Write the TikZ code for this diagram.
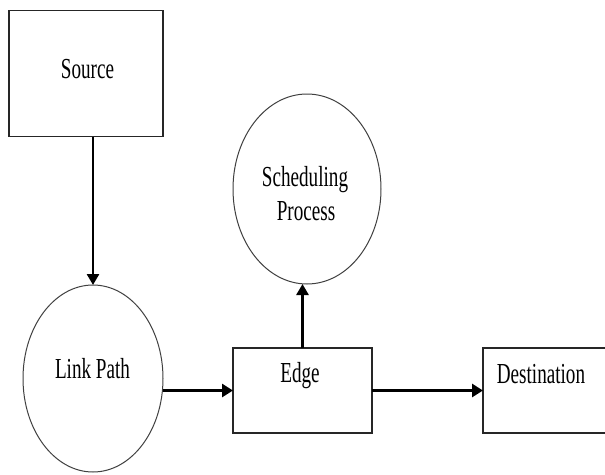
\documentclass[tikz,border=0pt]{standalone}
\usepackage{fontspec}
\setmainfont{Liberation Serif}
\usetikzlibrary{shapes.geometric,arrows.meta,calc}
\newcommand{\lbl}[1]{\scalebox{0.66}[1]{\fontsize{29}{32}\selectfont #1}}
\begin{document}
\begin{tikzpicture}[x=1pt,y=-1pt,
  boxshape/.style={draw=black!85,line width=1.4pt,rectangle,inner sep=0pt,outer sep=0pt},
  ovalshape/.style={draw=black!75,line width=1pt,ellipse,inner sep=0pt,outer sep=0pt},
  txt/.style={anchor=base,inner sep=0pt,text=black},
  arr/.style={line width=3.2pt,-{Triangle[length=11pt,width=13pt]}},
  varr/.style={line width=2.6pt,-{Triangle[length=11pt,width=12pt]}}]
\useasboundingbox[fill=white] (0,0) rectangle (605,474);
% shapes
\node[boxshape,minimum width=154pt,minimum height=126pt] (src) at (86,73.5) {};
\node[ovalshape,minimum width=140pt,minimum height=187pt] (lp) at (93,378.5) {};
\node[boxshape,minimum width=139pt,minimum height=85pt] (edge) at (302.5,390.5) {};
\node[ovalshape,minimum width=148pt,minimum height=190pt] (sched) at (307,189) {};
\node[boxshape,minimum width=150pt,minimum height=85pt] (dest) at (558,390.5) {};
% labels
\node[txt] (tsrc) at (87.5,78) {\lbl{Source}};
\node[txt] (tlp) at (92.5,378) {\lbl{Link Path}};
\node[txt] (tedge) at (300,382) {\lbl{Edge}};
\node[txt] (tsch1) at (305,186) {\lbl{Scheduling}};
\node[txt] (tsch2) at (306,220) {\lbl{Process}};
\node[txt] (tdest) at (541,383) {\lbl{Destination}};
% connectors
\draw[varr] (src.south -| lp.north) -- (lp.north);
\draw[arr] (lp.east |- edge.west) -- (edge.west);
\draw[arr] (edge.east) -- (dest.west);
\draw[varr] (edge.north) -- (edge.north |- sched.south);
\end{tikzpicture}
\end{document}
